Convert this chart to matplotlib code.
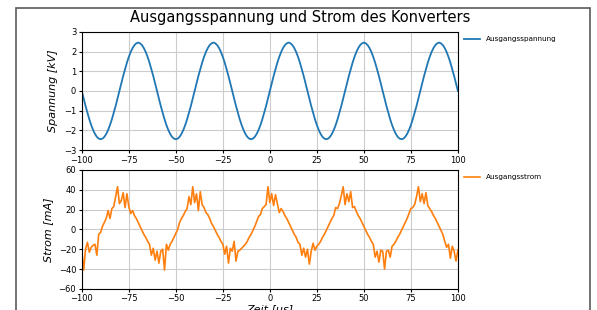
import numpy as np
import matplotlib.pyplot as plt
from matplotlib.patches import Rectangle

# Zeitachse in µs (Schrittweite 1 µs)
zeit = np.arange(-100, 101, 1)

# Ausgangsspannung in kV
spannung = [
    0.00, -0.38, -0.76, -1.11, -1.44, -1.73, -1.98, -2.18, -2.33, -2.42,
    -2.45, -2.42, -2.33, -2.18, -1.98, -1.73, -1.44, -1.11, -0.76, -0.38,
    0.00, 0.38, 0.76, 1.11, 1.44, 1.73, 1.98, 2.18, 2.33, 2.42,
    2.46, 2.42, 2.33, 2.18, 1.98, 1.73, 1.44, 1.11, 0.76, 0.38,
    0.00, -0.38, -0.76, -1.11, -1.44, -1.73, -1.98, -2.18, -2.33, -2.42,
    -2.45, -2.42, -2.33, -2.18, -1.98, -1.73, -1.44, -1.11, -0.76, -0.38,
    0.00, 0.38, 0.76, 1.11, 1.44, 1.73, 1.98, 2.18, 2.33, 2.42,
    2.46, 2.42, 2.33, 2.18, 1.98, 1.73, 1.44, 1.11, 0.76, 0.38,
    0.00, -0.38, -0.76, -1.11, -1.44, -1.73, -1.98, -2.18, -2.33, -2.42,
    -2.45, -2.42, -2.33, -2.18, -1.98, -1.73, -1.44, -1.11, -0.76, -0.38,
    0.00, 0.38, 0.76, 1.11, 1.44, 1.73, 1.98, 2.18, 2.33, 2.42,
    2.46, 2.42, 2.33, 2.18, 1.98, 1.73, 1.44, 1.11, 0.76, 0.38,
    0.00, -0.38, -0.76, -1.11, -1.44, -1.73, -1.98, -2.18, -2.33, -2.42,
    -2.45, -2.42, -2.33, -2.18, -1.98, -1.73, -1.44, -1.11, -0.76, -0.38,
    0.00, 0.38, 0.76, 1.11, 1.44, 1.73, 1.98, 2.18, 2.33, 2.42,
    2.46, 2.42, 2.33, 2.18, 1.98, 1.73, 1.44, 1.11, 0.76, 0.38,
    0.00, -0.38, -0.76, -1.11, -1.44, -1.73, -1.98, -2.18, -2.33, -2.42,
    -2.45, -2.42, -2.33, -2.18, -1.98, -1.73, -1.44, -1.11, -0.76, -0.38,
    0.00, 0.38, 0.76, 1.11, 1.44, 1.73, 1.98, 2.18, 2.33, 2.42,
    2.46, 2.42, 2.33, 2.18, 1.98, 1.73, 1.44, 1.11, 0.76, 0.38,
    0.00,
]

# Ausgangsstrom in mA (Grundverlauf mit Stoerspitzen)
strom = [
    -22, -41, -20, -13, -23, -18, -16, -15, -26, -5,
    -3, 3, 7, 11, 19, 11, 21, 23, 33, 43,
    26, 29, 37, 22, 36, 23, 16, 19, 14, 11,
    7, 3, -1, -5, -8, -12, -15, -26, -19, -31,
    -22, -34, -22, -20, -41, -15, -21, -15, -12, -8,
    -4, 0, 7, 11, 14, 18, 21, 33, 25, 43,
    27, 36, 19, 38, 25, 22, 17, 15, 11, 6,
    3, -1, -5, -8, -12, -15, -25, -17, -34, -19,
    -22, -12, -32, -22, -21, -19, -17, -15, -12, -8,
    -5, -1, 3, 8, 13, 15, 21, 23, 25, 43,
    27, 36, 24, 35, 26, 17, 21, 18, 14, 11,
    7, 3, -1, -5, -8, -13, -15, -26, -19, -28,
    -20, -35, -22, -14, -21, -17, -15, -12, -8, -5,
    -1, 3, 7, 11, 14, 22, 21, 26, 34, 43,
    25, 36, 28, 38, 22, 23, 18, 14, 11, 7,
    3, -1, -5, -8, -12, -15, -28, -22, -33, -21,
    -22, -40, -22, -21, -28, -17, -15, -12, -8, -5,
    -1, 3, 7, 11, 16, 21, 22, 25, 33, 43,
    28, 36, 26, 37, 24, 21, 18, 14, 11, 7,
    3, -1, -5, -12, -18, -15, -29, -17, -22, -32,
    -21,
]

TICK_SIZE = 6
LABEL_SIZE = 8

fig = plt.figure(figsize=(5.97, 3.10), dpi=100)

# Rahmen um die Abbildung (unten abgeschnitten)
fig.patches.append(Rectangle((16 / 597, -0.2), 574 / 597, 1.2 - 8 / 310,
                             transform=fig.transFigure, fill=False,
                             edgecolor="#5a5a5a", linewidth=1.2))

fig.text(0.503, 0.945, "Ausgangsspannung und Strom des Konverters",
         ha="center", va="center", fontsize=10.5)

ax1 = fig.add_axes([0.137, 0.516, 0.630, 0.381])
ax2 = fig.add_axes([0.137, 0.068, 0.630, 0.384])

ax1.plot(zeit, spannung, color="#1f77b4", linewidth=1.3, label="Ausgangsspannung")
ax1.set_xlim(-100, 100)
ax1.set_ylim(-3, 3)
ax1.set_yticks(range(-3, 4))
ax1.set_ylabel("Spannung [kV]", fontsize=LABEL_SIZE, style="italic")

ax2.plot(zeit, strom, color="#ff7f0e", linewidth=1.2, label="Ausgangsstrom")
ax2.set_xlim(-100, 100)
ax2.set_ylim(-60, 60)
ax2.set_yticks(range(-60, 61, 20))
ax2.set_ylabel("Strom [mA]", fontsize=LABEL_SIZE, style="italic")
ax2.set_xlabel("Zeit [µs]", fontsize=LABEL_SIZE, style="italic", labelpad=1)

for ax in (ax1, ax2):
    ax.set_xticks(range(-100, 101, 25))
    ax.grid(True, color="#cccccc", linewidth=0.8)
    ax.tick_params(labelsize=TICK_SIZE, length=2.5, pad=1.5)
    ax.yaxis.labelpad = 4
    ax.legend(loc="upper left", bbox_to_anchor=(1.0, 1.02), frameon=False,
              fontsize=5.2, handlelength=2.2)

fig.savefig("out.png", dpi=100)
